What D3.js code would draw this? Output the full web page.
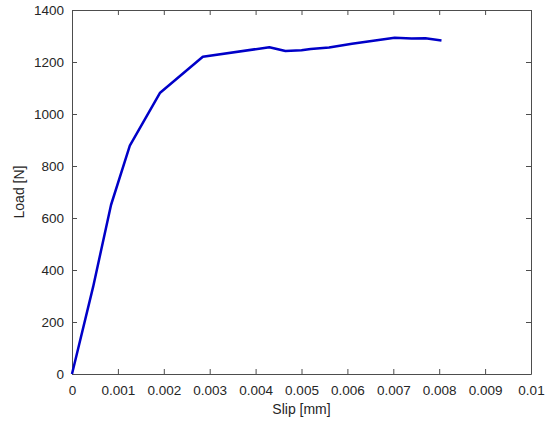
<!DOCTYPE html>
<html><head><meta charset="utf-8">
<script src="https://cdn.jsdelivr.net/npm/d3@7"></script>
<style>body{margin:0;background:#fff;} text{font-family:"Liberation Sans",Arial,sans-serif;}</style>
</head><body><svg id="c" width="550" height="429"></svg>
<script>
const slip = [0, 0.00046, 0.00085, 0.00126, 0.00192, 0.00285, 0.0043, 0.00465, 0.005, 0.0052, 0.0056, 0.0061, 0.00703, 0.0074, 0.0077, 0.00805];
const load = [0, 335, 650, 878, 1082, 1220, 1257, 1242, 1245, 1250, 1256, 1270, 1293, 1290, 1291, 1283];
const xTicks = [0, 0.001, 0.002, 0.003, 0.004, 0.005, 0.006, 0.007, 0.008, 0.009, 0.01];
const yTicks = [0, 200, 400, 600, 800, 1000, 1200, 1400];
const xLabel = "Slip [mm]", yLabel = "Load [N]";

const L = 72, R = 531, T = 10, B = 374;
const svg = d3.select("#c");
const x = d3.scaleLinear().domain([0, 0.01]).range([L, R]);
const y = d3.scaleLinear().domain([0, 1400]).range([B, T]);
const axCol = "#4d4d4d", txtCol = "#262626";

function style(g){
  g.select(".domain").attr("stroke", axCol);
  g.selectAll(".tick line").attr("stroke", axCol);
  g.selectAll(".tick text").attr("fill", txtCol).attr("font-size", 13.5);
}
svg.append("g").attr("transform", `translate(0,${B})`)
  .call(d3.axisBottom(x).tickValues(xTicks).tickSize(-5).tickSizeOuter(0).tickPadding(11).tickFormat(d => d === 0 ? "0" : String(+d.toFixed(3))))
  .call(style);
svg.append("g").attr("transform", `translate(0,${T})`)
  .call(d3.axisTop(x).tickValues(xTicks).tickSize(-5).tickSizeOuter(0).tickFormat(""))
  .call(style);
svg.append("g").attr("transform", `translate(${L},0)`)
  .call(d3.axisLeft(y).tickValues(yTicks).tickSize(-5).tickSizeOuter(0).tickPadding(8).tickFormat(d3.format("d")))
  .call(style);
svg.append("g").attr("transform", `translate(${R},0)`)
  .call(d3.axisRight(y).tickValues(yTicks).tickSize(-5).tickSizeOuter(0).tickFormat(""))
  .call(style);

const data = slip.map((s, i) => [s, load[i]]);
svg.append("path").datum(data)
  .attr("fill", "none").attr("stroke", "#0000c8").attr("stroke-width", 2.5)
  .attr("stroke-linejoin", "round")
  .attr("d", d3.line().x(d => x(d[0])).y(d => y(d[1])));

svg.append("text").attr("x", (L + R) / 2).attr("y", 414).attr("text-anchor", "middle")
  .attr("font-size", 14).attr("fill", txtCol).text(xLabel);
svg.append("text").attr("transform", `translate(24,${(T + B) / 2}) rotate(-90)`)
  .attr("text-anchor", "middle").attr("font-size", 14).attr("fill", txtCol).text(yLabel);
</script></body></html>
